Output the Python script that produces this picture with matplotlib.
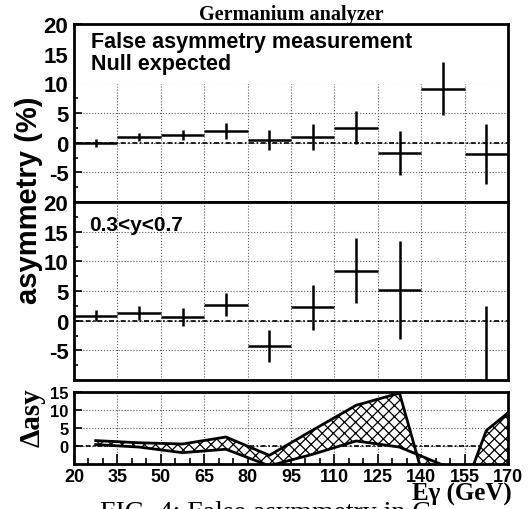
import numpy as np
import matplotlib
matplotlib.use("Agg")
import matplotlib.pyplot as plt
from matplotlib.ticker import MultipleLocator

# --- data (bin centres in GeV) ---
e_bins = [27.5, 42.5, 57.5, 72.5, 87.5, 102.5, 117.5, 132.5, 147.5, 162.5]
bin_half = 7.5

# top panel: false asymmetry, all y
asy_all = [-0.1, 1.0, 1.3, 2.0, 0.5, 1.0, 2.5, -1.7, 9.1, -1.9]
err_all = [0.7, 0.7, 0.9, 1.3, 1.7, 2.2, 2.8, 3.7, 4.5, 5.1]

# middle panel: 0.3<y<0.7
asy_cut = [0.85, 1.35, 0.6, 2.7, -4.3, 2.25, 8.4, 5.2, np.nan, -13.0]
err_cut = [0.9, 1.2, 1.5, 1.9, 2.7, 3.75, 5.5, 8.3, np.nan, 15.5]

# bottom panel: delta band (upper / lower edge)
e_delta = [27.5, 42.5, 57.5, 72.5, 87.5, 102.5, 117.5, 132.5, 147.5, 162.5, 177.5]
delta_hi = [1.5, 0.9, 0.55, 2.5, -2.6, 4.4, 11.3, 14.7, -28.0, 4.3, 14.1]
delta_lo = [0.4, -0.3, -1.85, -0.9, -5.5, -2.3, 1.4, -0.3, -5.3, -10.0, -10.0]

x_ticks = [20, 35, 50, 65, 80, 95, 110, 125, 140, 155, 170]

plt.rcParams['hatch.linewidth'] = 0.9
plt.rcParams['axes.unicode_minus'] = False
sans = 'Liberation Sans'
serif = 'Liberation Serif'

fig = plt.figure(figsize=(5.29, 5.10), dpi=100)

left, width = 74 / 529, 434 / 529
ax_top = fig.add_axes([left, 1 - 203 / 510, width, 178 / 510])
ax_mid = fig.add_axes([left, 1 - 381 / 510, width, 178 / 510])
ax_bot = fig.add_axes([left, 1 - 465 / 510, width, 72 / 510])

grid_kw = dict(color='0.35', linestyle=':', linewidth=0.8)
zero_kw = dict(color='k', linestyle=(0, (3, 1.5, 1, 1.5)), linewidth=1.2)


def style(ax, ylim, yticks, xlabels, lab_size):
    ax.set_xlim(20, 170)
    ax.set_ylim(*ylim)
    ax.set_xticks(x_ticks)
    ax.set_yticks(yticks)
    for s in ax.spines.values():
        s.set_linewidth(2)
    ax.set_axisbelow(True)
    ax.grid(True, **grid_kw)
    ax.axhline(0, zorder=1.5, **zero_kw)
    ax.tick_params(axis='y', direction='in', length=6, width=1.2, right=False,
                   labelsize=lab_size, pad=4)
    ax.tick_params(axis='y', which='minor', direction='in', length=3, width=1.2)
    if xlabels:
        ax.tick_params(axis='x', direction='in', length=7, width=1.2, labelsize=13, pad=3)
        ax.xaxis.set_minor_locator(MultipleLocator(5))
        ax.tick_params(axis='x', which='minor', direction='in', length=4, width=1.2)
    else:
        ax.tick_params(axis='x', length=0, labelbottom=False)
    for t in ax.get_yticklabels() + ax.get_xticklabels():
        t.set_fontfamily(sans)
        t.set_fontweight('bold')


style(ax_top, (-10, 20), [-5, 0, 5, 10, 15, 20], False, 16)
style(ax_mid, (-10, 20), [-5, 0, 5, 10, 15, 20], False, 16)
style(ax_bot, (-5, 15), [0, 5, 10, 15], True, 12)
ax_top.yaxis.set_minor_locator(MultipleLocator(2.5))
ax_mid.yaxis.set_minor_locator(MultipleLocator(2.5))

# white box behind the top panel text hides the grid above 10
ax_top.axhspan(10, 20, color='white', zorder=1.8)

eb_kw = dict(fmt='none', ecolor='k', elinewidth=1.8, capsize=0, zorder=3)
ax_top.errorbar(e_bins, asy_all, xerr=bin_half, yerr=err_all, **eb_kw)
ax_mid.errorbar(e_bins, asy_cut, xerr=bin_half, yerr=err_cut, **eb_kw)

ax_top.text(0.04, 0.87, "False asymmetry measurement", transform=ax_top.transAxes,
            fontfamily=sans, fontweight='bold', fontsize=15.5, zorder=4)
ax_top.text(0.04, 0.745, "Null expected", transform=ax_top.transAxes,
            fontfamily=sans, fontweight='bold', fontsize=15.5, zorder=4)
ax_top.set_title("Germanium analyzer", fontfamily=serif, fontweight='bold',
                 fontsize=14.5, pad=3)

ax_mid.text(0.035, 0.84, "0.3<y<0.7", transform=ax_mid.transAxes,
            fontfamily=sans, fontweight='bold', fontsize=15, zorder=4)

# delta band
ax_bot.fill_between(e_delta, delta_lo, delta_hi, facecolor='white', edgecolor='k',
                    hatch='xxx', linewidth=0, zorder=2)
ax_bot.plot(e_delta, delta_hi, color='k', linewidth=2, zorder=3)
ax_bot.plot(e_delta, delta_lo, color='k', linewidth=2, zorder=3)

fig.text(0.055, (1 - 200 / 510), "asymmetry (%)", rotation=90, ha='center', va='center',
         fontfamily=sans, fontweight='bold', fontsize=21)
fig.text(0.06, 1 - 418 / 510, "\u0394asy", rotation=90, ha='center', va='center',
         fontfamily=serif, fontweight='bold', fontsize=21)

fig.text(100 / 529, -10 / 510, "FIG. 4: False asymmetry in C", fontfamily=serif,
         fontsize=20, va='baseline', ha='left')
fig.text(512 / 529, 1 - 501 / 510, "E\u03b3 (GeV)", fontfamily=serif, fontweight='bold',
         fontsize=18, ha='right', va='baseline')

fig.savefig("out.png", dpi=100)
